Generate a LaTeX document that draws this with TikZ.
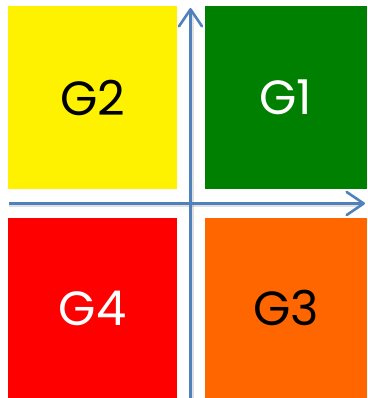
\documentclass[tikz,border=0pt]{standalone}
\usepackage{fontspec}
\setmainfont{Poppins}
\usetikzlibrary{arrows.meta}

\definecolor{axisblue}{RGB}{79,129,189}
\definecolor{quadorange}{RGB}{255,102,0}
\definecolor{quadgreen}{RGB}{0,128,0}

\tikzset{every picture/.style={line width=0.75pt}}
\tikzset{
  quad/.style={inner sep=0pt, minimum width=#1, font=\fontsize{48}{48}\selectfont},
  quad/.default=169pt,
  axisline/.style={color=axisblue, line width=2.6pt, -{Straight Barb[length=17pt,width=23pt,line width=2.6pt,round]}},
}

\begin{document}
\begin{tikzpicture}[x=1pt,y=1pt,yscale=-1,xscale=1]
\useasboundingbox (0,0) rectangle (367,398);

%Rect G2
\node [quad, minimum height=183pt, fill=yellow, text=black] (g2) at (92.5,97.5) {G2};
%Rect G1
\node [quad=162pt, minimum height=183pt, fill=quadgreen, text=white] (g1) at (286,97.5) {G1};
%Rect G4
\node [quad, minimum height=180pt, fill=red, text=white] (g4) at (92.5,308) {G4};
%Rect G3
\node [quad=162pt, minimum height=180pt, fill=quadorange, text=black] (g3) at (286,308) {G3};

%Axis ends
\coordinate (ybot) at (190.5,399);
\coordinate (ytop) at (190.5,8);
\coordinate (xleft) at (9,203.5);
\coordinate (xright) at (365,203.5);

%Shadow
\draw [black, opacity=0.12, line width=3pt] ([xshift=1.5pt]ybot) -- ([xshift=1.5pt,yshift=4pt]ytop);
\draw [black, opacity=0.12, line width=3pt] ([yshift=2pt]xleft) -- ([xshift=-4pt,yshift=2pt]xright);
%Straight Lines
\draw [axisline] (ybot) -- (ytop);
\draw [axisline] (xleft) -- (xright);

\end{tikzpicture}
\end{document}
